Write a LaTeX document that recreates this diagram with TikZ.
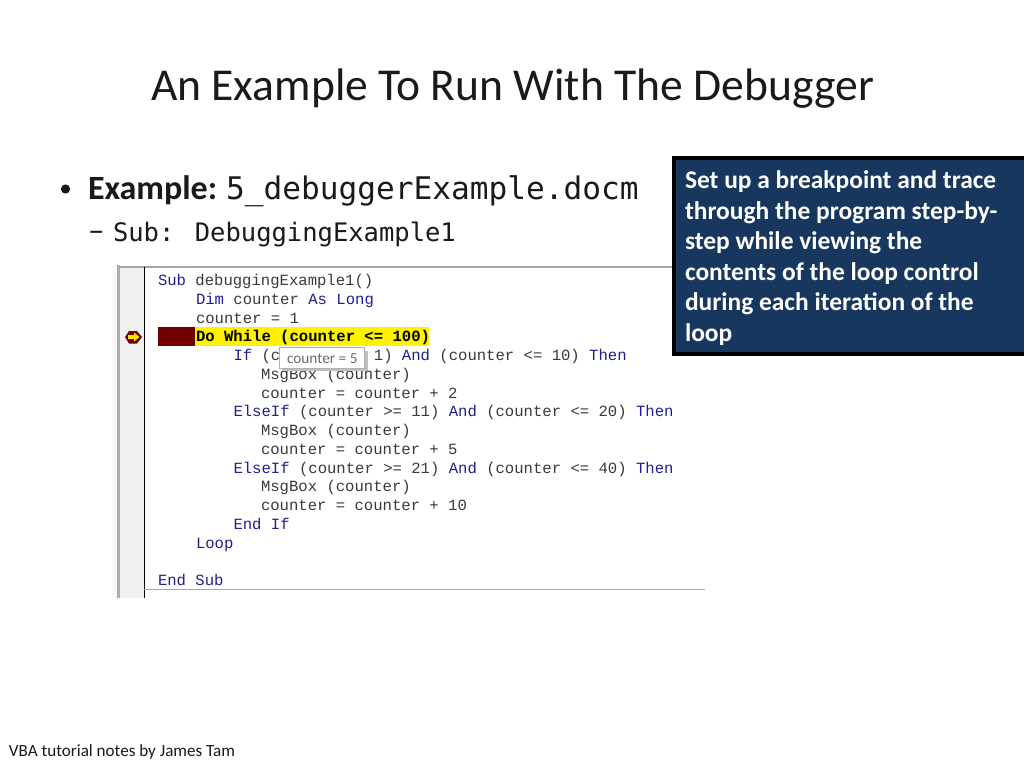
\documentclass[tikz,border=0pt]{standalone}
\usepackage{fontspec}
\setmainfont{Carlito}
\newfontfamily\codefont{Liberation Mono}
\newfontfamily\slidemono{DejaVu Sans Mono}
\definecolor{kw}{HTML}{1F1F8F}
\definecolor{plain}{HTML}{3A3A3A}
\definecolor{boxblue}{HTML}{17375E}
\definecolor{ink}{HTML}{1A1A1A}
\newcommand{\kw}[1]{\textcolor{kw}{#1}}
\newcommand{\callfont}{\bfseries\fontsize{25.45}{25.45}\selectfont\spaceskip .226em\relax}
\tikzset{
  every node/.style={inner sep=0pt,outer sep=0pt,anchor=base west},
  codeline/.style={font=\codefont\fontsize{15.6}{15.6}\selectfont,text=plain},
  slidetext/.style={text=ink},
  callline/.style={text=white,font=\callfont},
}
\begin{document}
\begin{tikzpicture}[x=1pt,y=-1pt]
\useasboundingbox (0,0) rectangle (1024,768);
\fill[white] (0,0) rectangle (1024,768);
\node[slidetext,font=\fontsize{45.6}{45.6}\selectfont] (title) at (151,100) {An Example To Run With The Debugger};
\fill[ink] (65.5,189) circle (4.6);
\node[slidetext,font=\bfseries\fontsize{34}{34}\selectfont] (ex) at (88,199) {Example:};
\node[slidetext,font=\slidemono\fontsize{31.15}{31.15}\selectfont] (file) at (226,199) {5\_debuggerExample.docm};
\node[slidetext,font=\fontsize{33}{33}\selectfont] (dash) at (88,241) {–};
\node[slidetext,font=\slidemono\fontsize{25.5}{25.5}\selectfont] (sub) at (113,241) {Sub: DebuggingExample1};
% editor frame
\fill[gray!5] (112,265) rectangle (117,598);
\fill[gray!12] (120,267) rectangle (144,598);
\fill[gray!65] (117,265) rectangle (120,598);
\draw[gray!70,line width=2pt] (117,267) -- (672,267);
\draw[black,line width=1.5pt] (144.5,267) -- (144.5,598);
\draw[gray!70,line width=1pt] (144,589.5) -- (705,589.5);
% current line
\fill[red!45!black] (158,327) rectangle (195,346);
\fill[yellow] (195,327) rectangle (429,346);
\fill[red!45!black] (125,337) -- (129,331) -- (137,331) -- (142,337) -- (137,343.5) -- (129,343.5) -- cycle;
\fill[yellow!90!orange] (128,335) -- (134,335) -- (134,332.5) -- (139.5,337) -- (134,341.5) -- (134,339) -- (128,339) -- cycle;
% code
\node[codeline] (c1) at (158,285) {\kw{Sub} debuggingExample1()};
\node[codeline] (c2) at (196,304) {\kw{Dim} counter \kw{As} \kw{Long}};
\node[codeline] (c3) at (196,323) {counter = 1};
\node[codeline,text=black,font=\codefont\bfseries\fontsize{15.6}{15.6}\selectfont] (c4) at (196,341.5) {Do While (counter <= 100)};
\node[codeline] (c5) at (233.5,360) {\kw{If} (c};
\node[codeline] (c5b) at (373.9,360) {1) \kw{And} (counter <= 10) \kw{Then}};
\node[codeline] (c6) at (261,379) {MsgBox (counter)};
\node[codeline] (c7) at (261,398) {counter = counter + 2};
\node[codeline] (c8) at (233.5,416) {\kw{ElseIf} (counter >= 11) \kw{And} (counter <= 20) \kw{Then}};
\node[codeline] (c9) at (261,435) {MsgBox (counter)};
\node[codeline] (c10) at (261,454) {counter = counter + 5};
\node[codeline] (c11) at (233.5,473) {\kw{ElseIf} (counter >= 21) \kw{And} (counter <= 40) \kw{Then}};
\node[codeline] (c12) at (261,491.5) {MsgBox (counter)};
\node[codeline] (c13) at (261,510) {counter = counter + 10};
\node[codeline] (c14) at (233.5,529) {\kw{End} \kw{If}};
\node[codeline] (c15) at (196,548) {\kw{Loop}};
\node[codeline] (c16) at (158,585) {\kw{End} \kw{Sub}};
% tooltip
\fill[black!25] (282,351) rectangle (368,371);
\draw[gray!60,fill=white,line width=0.7pt] (279,347.5) rectangle (364.5,368);
\node[text=gray!85!black,font=\fontsize{15.3}{15.3}\selectfont] (tip) at (287,363) {counter = 5};
% callout
\draw[black,line width=4pt,fill=boxblue] (674,158) rectangle (1026,354);
\node[callline] (l1) at (685,188) {Set up a breakpoint and trace};
\node[callline] (l2) at (685,219) {through the program step-by-};
\node[callline] (l3) at (685,249.4) {step while viewing the};
\node[callline] (l4) at (685,280) {contents of the loop control};
\node[callline] (l5) at (685,310.6) {during each iteration of the};
\node[callline] (l6) at (685,341) {loop};
\node[slidetext,font=\fontsize{17.1}{17.1}\selectfont] (foot) at (9,756) {VBA tutorial notes by James Tam};
\end{tikzpicture}
\end{document}
